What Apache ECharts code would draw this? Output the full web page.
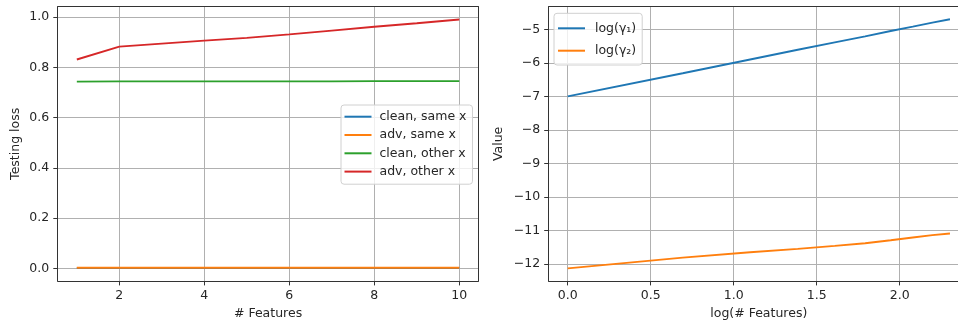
<!DOCTYPE html>
<html>
<head>
<meta charset="utf-8">
<script src="https://cdn.jsdelivr.net/npm/echarts@6/dist/echarts.min.js"></script>
<style>
html,body{margin:0;padding:0;background:#fff;overflow:hidden;}
#c{width:958px;height:321px;}
</style>
</head>
<body>
<div id="c"></div>
<script>
// ---- data ----
var features = [1, 2, 3, 4, 5, 6, 7, 8, 9, 10];
var cleanSame = [0.001, 0.001, 0.001, 0.001, 0.001, 0.001, 0.001, 0.001, 0.001, 0.001];
var advSame = [0.002, 0.002, 0.002, 0.002, 0.002, 0.002, 0.002, 0.002, 0.002, 0.002];
var cleanOther = [0.743, 0.744, 0.744, 0.744, 0.744, 0.744, 0.744, 0.745, 0.745, 0.745];
var advOther = [0.831, 0.882, 0.894, 0.906, 0.917, 0.931, 0.946, 0.961, 0.975, 0.990];

var logFeatures = [0, 0.693, 1.099, 1.386, 1.609, 1.792, 1.946, 2.079, 2.197, 2.303];
var logGamma1 = [-7.0, -6.31, -5.90, -5.61, -5.39, -5.21, -5.05, -4.92, -4.80, -4.70];
var logGamma2 = [-12.13, -11.81, -11.65, -11.55, -11.46, -11.38, -11.29, -11.21, -11.14, -11.09];

var leftXTicks = [2, 4, 6, 8, 10];
var leftYTicks = [0, 0.2, 0.4, 0.6, 0.8, 1.0];
var rightXTicks = [0, 0.5, 1.0, 1.5, 2.0];
var rightYTicks = [-12, -11, -10, -9, -8, -7, -6, -5];

var leftNames = ['clean, same x', 'adv, same x', 'clean, other x', 'adv, other x'];
var rightNames = ['log(\u03b3\u2081)', 'log(\u03b3\u2082)'];
var colors = ['#1f77b4', '#ff7f0e', '#2ca02c', '#d62728'];

function zip(xs, ys) { return xs.map(function (x, i) { return [x, ys[i]]; }); }

var FONT = 'DejaVu Sans';
var TXT = '#262626';
var FS = 12.5;
var SPINE = { show: true, onZero: false, lineStyle: { color: '#333', width: 1 } };

function mkAxis(gridIndex, min, max, ticks, fmt, name, nameGap) {
  return {
    type: 'value', gridIndex: gridIndex, min: min, max: max,
    name: name, nameLocation: 'middle', nameGap: nameGap,
    nameTextStyle: { fontFamily: FONT, fontSize: FS, color: TXT },
    axisLine: SPINE,
    axisTick: { show: true, inside: false, length: 4.4, lineStyle: { color: '#333', width: 1 }, customValues: ticks },
    axisLabel: { show: true, margin: 8.5, fontFamily: FONT, fontSize: FS, color: TXT, customValues: ticks, formatter: fmt },
    splitLine: { show: true, lineStyle: { color: '#b0b0b0', width: 1 } }
  };
}
function spineAxis(gridIndex, position) {
  return {
    type: 'value', gridIndex: gridIndex, position: position, min: 0, max: 1,
    axisLine: SPINE, axisTick: { show: false }, axisLabel: { show: false }, splitLine: { show: false }
  };
}
function minus(v) { return String(v).replace('-', '\u2212'); }

var chart = echarts.init(document.getElementById('c'), null, { renderer: 'canvas' });
var option = {
  animation: false,
  color: colors,
  grid: [
    { left: 57.7, top: 6.7, width: 420.7, height: 274.3, outerBoundsMode: 'none', containLabel: false, show: false },
    { left: 548.6, top: 6.7, width: 420.4, height: 274.3, outerBoundsMode: 'none', containLabel: false, show: false }
  ],
  xAxis: [
    mkAxis(0, 0.55, 10.45, leftXTicks, function (v) { return String(Math.round(v)); }, '# Features', 26.5),
    mkAxis(1, -0.1151, 2.4177, rightXTicks, function (v) { return v.toFixed(1); }, 'log(# Features)', 26.5),
    spineAxis(0, 'top'),
    spineAxis(1, 'top')
  ],
  yAxis: [
    mkAxis(0, -0.0505, 1.041, leftYTicks, function (v) { return v.toFixed(1); }, 'Testing loss', 35.7),
    mkAxis(1, -12.507, -4.326, rightYTicks, function (v) { return minus(Math.round(v)); }, 'Value', 43.5),
    spineAxis(0, 'right')
  ],
  legend: [
    {
      data: leftNames, orient: 'vertical', left: 341, top: 105,
      icon: 'rect', itemWidth: 27, itemHeight: 2, itemGap: 4.3,
      padding: [4.7, 6, 5.6, 3.5],
      backgroundColor: 'rgba(255,255,255,0.8)', borderColor: '#d0d0d0', borderWidth: 1, borderRadius: 3,
      textStyle: { fontFamily: FONT, fontSize: FS, color: TXT, lineHeight: 14, padding: [0, 0, 0, 3] }
    },
    {
      data: rightNames, orient: 'vertical', left: 554, top: 13.3,
      icon: 'rect', itemWidth: 27, itemHeight: 2, itemGap: 6.4,
      padding: [7, 6, 6.3, 4],
      backgroundColor: 'rgba(255,255,255,0.8)', borderColor: '#d0d0d0', borderWidth: 1, borderRadius: 3,
      textStyle: { fontFamily: FONT, fontSize: FS, color: TXT, lineHeight: 16, padding: [0, 0, 0, 5] }
    }
  ],
  series: [
    { name: leftNames[0], type: 'line', xAxisIndex: 0, yAxisIndex: 0, symbol: 'none', data: zip(features, cleanSame), lineStyle: { width: 1.9, color: colors[0] }, itemStyle: { color: colors[0] } },
    { name: leftNames[1], type: 'line', xAxisIndex: 0, yAxisIndex: 0, symbol: 'none', data: zip(features, advSame), lineStyle: { width: 1.9, color: colors[1] }, itemStyle: { color: colors[1] } },
    { name: leftNames[2], type: 'line', xAxisIndex: 0, yAxisIndex: 0, symbol: 'none', data: zip(features, cleanOther), lineStyle: { width: 1.9, color: colors[2] }, itemStyle: { color: colors[2] } },
    { name: leftNames[3], type: 'line', xAxisIndex: 0, yAxisIndex: 0, symbol: 'none', data: zip(features, advOther), lineStyle: { width: 1.9, color: colors[3] }, itemStyle: { color: colors[3] } },
    { name: rightNames[0], type: 'line', xAxisIndex: 1, yAxisIndex: 1, symbol: 'none', data: zip(logFeatures, logGamma1), lineStyle: { width: 1.9, color: colors[0] }, itemStyle: { color: colors[0] } },
    { name: rightNames[1], type: 'line', xAxisIndex: 1, yAxisIndex: 1, symbol: 'none', data: zip(logFeatures, logGamma2), lineStyle: { width: 1.9, color: colors[1] }, itemStyle: { color: colors[1] } }
  ]
};
chart.setOption(option);
</script>
</body>
</html>
